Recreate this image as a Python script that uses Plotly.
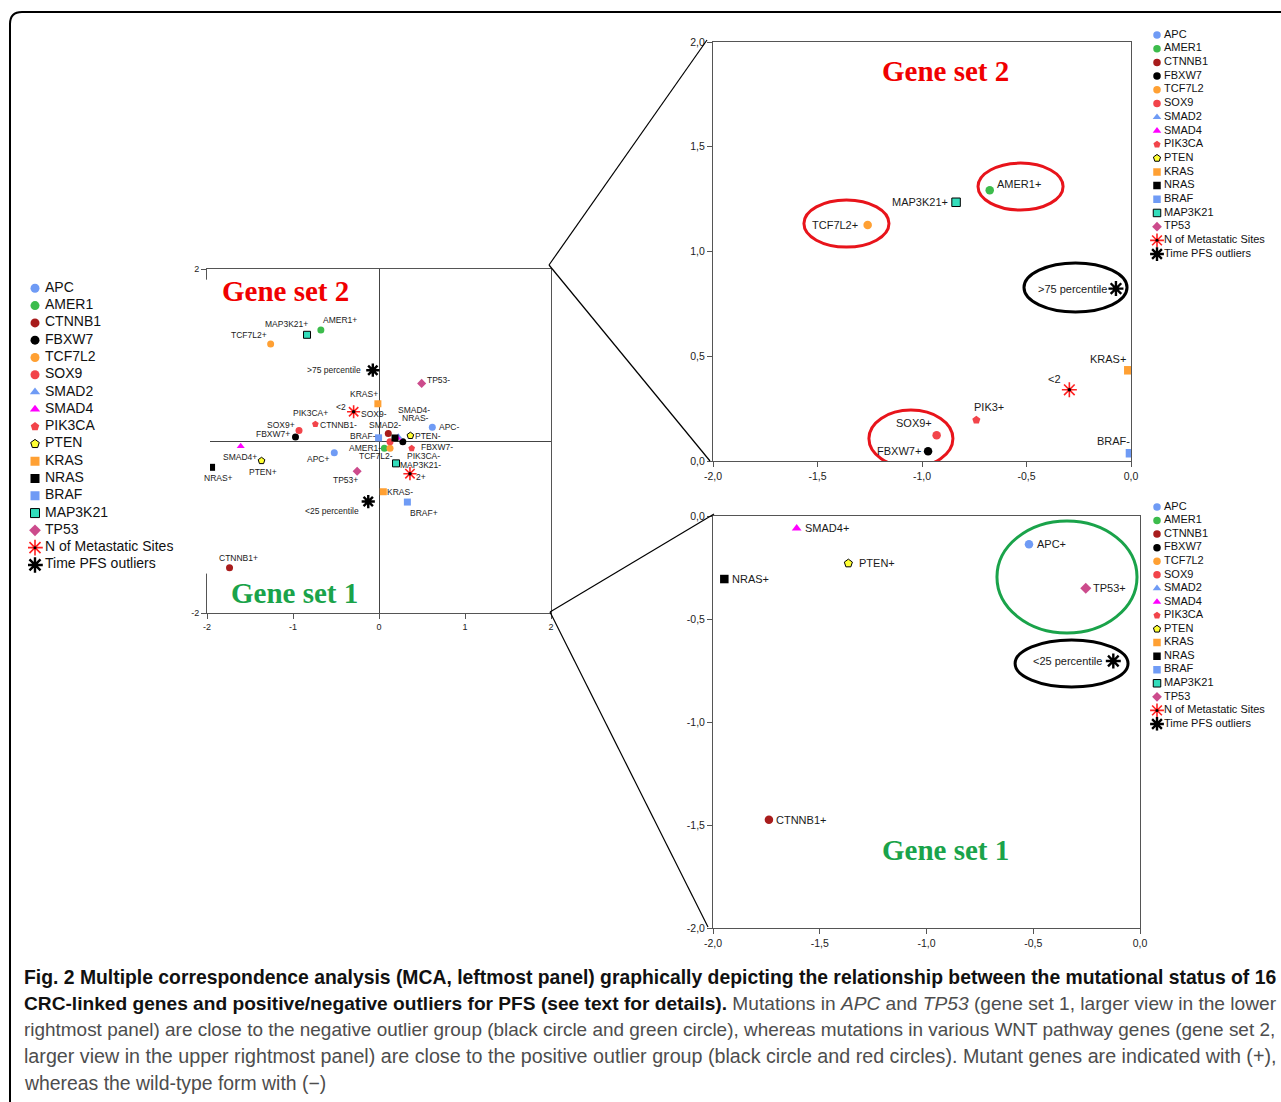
import plotly.graph_objects as go

# ---------------- DATA ----------------
series_names = ["APC", "AMER1", "CTNNB1", "FBXW7", "TCF7L2", "SOX9", "SMAD2", "SMAD4",
                "PIK3CA", "PTEN", "KRAS", "NRAS", "BRAF", "MAP3K21", "TP53",
                "N of Metastatic Sites", "Time PFS outliers"]

point_labels = ["APC+", "APC-", "AMER1+", "AMER1-", "CTNNB1+", "CTNNB1-", "FBXW7+", "FBXW7-",
                "TCF7L2+", "TCF7L2-", "SOX9+", "SOX9-", "SMAD2-", "SMAD4+", "SMAD4-",
                "PIK3CA+", "PIK3CA-", "PTEN+", "PTEN-", "KRAS+", "KRAS-", "NRAS+", "NRAS-",
                "BRAF+", "BRAF-", "MAP3K21+", "MAP3K21-", "TP53+", "TP53-",
                "<2", "2+", ">75 percentile", "<25 percentile"]
point_series = ["APC", "APC", "AMER1", "AMER1", "CTNNB1", "CTNNB1", "FBXW7", "FBXW7",
                "TCF7L2", "TCF7L2", "SOX9", "SOX9", "SMAD2", "SMAD4", "SMAD4",
                "PIK3CA", "PIK3CA", "PTEN", "PTEN", "KRAS", "KRAS", "NRAS", "NRAS",
                "BRAF", "BRAF", "MAP3K21", "MAP3K21", "TP53", "TP53",
                "N of Metastatic Sites", "N of Metastatic Sites",
                "Time PFS outliers", "Time PFS outliers"]
dim1 = [-0.52, 0.62, -0.676, 0.062, -1.738, 0.108, -0.971, 0.277,
        -1.26, 0.128, -0.93, 0.128, 0.225, -1.608, 0.213,
        -0.74, 0.38, -1.366, 0.365, -0.013, 0.05, -1.947, 0.186,
        0.33, -0.005, -0.837, 0.198, -0.254, 0.496,
        -0.295, 0.36, -0.072, -0.125]
dim2 = [-0.137, 0.16, 1.292, -0.085, -1.474, 0.088, 0.046, -0.008,
        1.127, -0.085, 0.123, -0.008, 0.05, -0.06, 0.036,
        0.196, -0.085, -0.23, 0.062, 0.433, -0.59, -0.306, 0.035,
        -0.71, 0.037, 1.235, -0.26, -0.351, 0.67,
        0.34, -0.38, 0.823, -0.704]

left_ticks = [-2, -1, 0, 1, 2]
left_ticktext = ["-2", "-1", "0", "1", "2"]
neg_ticks = [-2, -1.5, -1, -0.5, 0]
neg_ticktext = ["-2,0", "-1,5", "-1,0", "-0,5", "0,0"]
pos_ticks = [0, 0.5, 1, 1.5, 2]
pos_ticktext = ["0,0", "0,5", "1,0", "1,5", "2,0"]

upper_display = {"PIK3CA+": "PIK3+"}

caption_lines = [
    "<b>Fig. 2 Multiple correspondence analysis (MCA, leftmost panel) graphically depicting the relationship between the mutational status of 16</b>",
    "<b>CRC-linked genes and positive/negative outliers for PFS (see text for details).</b><span style='color:#4d4d4d'> Mutations in <i>APC</i> and <i>TP53</i> (gene set 1, larger view in the lower</span>",
    "<span style='color:#4d4d4d'>rightmost panel) are close to the negative outlier group (black circle and green circle), whereas mutations in various WNT pathway genes (gene set 2,</span>",
    "<span style='color:#4d4d4d'>larger view in the upper rightmost panel) are close to the positive outlier group (black circle and red circles). Mutant genes are indicated with (+),</span>",
    "<span style='color:#4d4d4d'>whereas the wild-type form with (\u2212)</span>",
]

# ---------------- STYLE ----------------
W, H = 1281, 1102
def px(x): return x / W
def py(y): return 1 - y / H

FONT = "Liberation Sans, Arial, sans-serif"
SERIF = "Liberation Serif, Times New Roman, serif"

series_style = {
    "APC": ("circle", "#6f9bf5", None),
    "AMER1": ("circle", "#3cbc4c", None),
    "CTNNB1": ("circle", "#a81c1c", None),
    "FBXW7": ("circle", "#000000", None),
    "TCF7L2": ("circle", "#ffa033", None),
    "SOX9": ("circle", "#f2444a", None),
    "SMAD2": ("triangle-up", "#6f9bf5", None),
    "SMAD4": ("triangle-up", "#ff00ff", None),
    "PIK3CA": ("pentagon", "#f2444a", None),
    "PTEN": ("pentagon", "#ffff33", "#000000"),
    "KRAS": ("square", "#ffa033", None),
    "NRAS": ("square", "#000000", None),
    "BRAF": ("square", "#6f9bf5", None),
    "MAP3K21": ("square", "#33ddbb", "#000000"),
    "TP53": ("diamond", "#cc4b8c", None),
    "N of Metastatic Sites": ("asterisk-open", "#ff2020", None),
    "Time PFS outliers": ("asterisk-open", "#000000", None),
}
STAR_SERIES = ["N of Metastatic Sites", "Time PFS outliers"]

# label offsets in screen pixels (dx right, dy down)
left_offsets = {
    "MAP3K21+": (-21, -11), "AMER1+": (19, -10), "TCF7L2+": (-22, -9), ">75 percentile": (-39, 0),
    "KRAS+": (-14, -10), "<2": (-13, -5), "SOX9-": (-16, -28), "PIK3CA+": (-5, -11),
    "CTNNB1-": (-50, -8), "SOX9+": (-18, -5), "FBXW7+": (-22, -3), "SMAD2-": (-13, -12),
    "BRAF-": (-16, -2), "SMAD4-": (17, -28), "NRAS-": (20, -20), "APC-": (17, 0),
    "PTEN-": (18, 0), "FBXW7-": (34, 5), "PIK3CA-": (12, 8), "AMER1-": (-19, 0),
    "TCF7L2-": (-14, 8), "MAP3K21-": (24, 2), "2+": (11, 3), "TP53+": (-12, 9),
    "APC+": (-16, 6), "SMAD4+": (-1, 11), "PTEN+": (1, 11), "NRAS+": (7, 11),
    "<25 percentile": (-36, 9), "CTNNB1+": (9, -10), "TP53-": (17, -3), "KRAS-": (17, 0),
    "BRAF+": (17, 11),
}
upper_offsets = {
    "AMER1+": (29, -6), "MAP3K21+": (-36, 0), "TCF7L2+": (-33, 0), ">75 percentile": (-43, 0),
    "KRAS+": (-20, -11), "<2": (-15, -11), "PIK3CA+": (13, -13), "SOX9+": (-23, -12),
    "FBXW7+": (-29, 0), "BRAF-": (-16, -12),
}
lower_offsets = {
    "SMAD4+": (30, 0), "PTEN+": (29, 0), "NRAS+": (26, 0), "APC+": (23, 0),
    "TP53+": (24, 0), "<25 percentile": (-46, 0), "CTNNB1+": (32, 0),
}

panels = [
    # axis suffix, xrange, yrange, marker size, label font size, offsets, display map
    ("", [-2, 2], [-2, 2], 7, 8.5, left_offsets, {}),
    ("2", [-2, 0], [0, 2], 8.5, 11, upper_offsets, upper_display),
    ("3", [-2, 0], [-2, 0], 8.5, 11, lower_offsets, {}),
]

fig = go.Figure()
annotations = []

def marker_for(s, size):
    sym, col, lc = series_style[s]
    if s in STAR_SERIES:
        return dict(symbol=sym, color=col, size=size + 4,
                    line=dict(color=col, width=2.4 if s == "Time PFS outliers" else 1.6))
    return dict(symbol=sym, color=col, size=size,
                line=dict(color=lc if lc else col, width=1 if lc else 0))

for suf, xr, yr, msize, lsize, offs, disp in panels:
    xa, ya = "x" + suf, "y" + suf
    inside = [i for i in range(len(point_labels))
              if xr[0] <= dim1[i] <= xr[1] and yr[0] <= dim2[i] <= yr[1]]
    for s in series_names:
        idx = [i for i in inside if point_series[i] == s]
        if not idx:
            continue
        fig.add_trace(go.Scatter(
            x=[dim1[i] for i in idx], y=[dim2[i] for i in idx], mode="markers",
            marker=marker_for(s, msize), xaxis=xa, yaxis=ya, showlegend=False,
            hoverinfo="text", text=[point_labels[i] for i in idx]))
        if s in STAR_SERIES:
            fig.add_trace(go.Scatter(
                x=[dim1[i] for i in idx], y=[dim2[i] for i in idx], mode="markers",
                marker=dict(symbol="circle", color="#000000",
                            size=5 if s == "Time PFS outliers" else 3.5),
                xaxis=xa, yaxis=ya, showlegend=False, hoverinfo="skip"))
    for i in inside:
        lab = point_labels[i]
        if lab not in offs:
            continue
        dx, dy = offs[lab]
        annotations.append(dict(
            x=dim1[i], y=dim2[i], xref=xa, yref=ya, text=disp.get(lab, lab),
            showarrow=False, xshift=dx, yshift=-dy, xanchor="center", yanchor="middle",
            font=dict(family=FONT, size=lsize, color="#1a1a1a")))

# ---------------- manual legends ----------------
legends = [
    # axis suffix, x domain px, top row y, row step, font size, marker size, text dx
    ("4", (28, 210), 288.3, 17.29, 14, 9, 10),
    ("5", (1150, 1281), 35.0, 13.69, 11, 7.5, 7),
    ("6", (1150, 1281), 507.0, 13.56, 11, 7.5, 7),
]
n = len(series_names)
for suf, (x0, x1), top, step, fsize, msz, tdx in legends:
    xa, ya = "x" + suf, "y" + suf
    mx = 7
    rows = list(range(n))
    for r, s in zip(rows, series_names):
        fig.add_trace(go.Scatter(x=[0], y=[r], mode="markers", marker=marker_for(s, msz),
                                 xaxis=xa, yaxis=ya, showlegend=False, hoverinfo="skip"))
        if s in STAR_SERIES:
            fig.add_trace(go.Scatter(x=[0], y=[r], mode="markers",
                                     marker=dict(symbol="circle", color="#000000",
                                                 size=4.5 if s == "Time PFS outliers" else 3),
                                     xaxis=xa, yaxis=ya, showlegend=False, hoverinfo="skip"))
    fig.add_trace(go.Scatter(x=[tdx] * n, y=rows, mode="text", text=series_names,
                             textposition="middle right", cliponaxis=False,
                             textfont=dict(family=FONT, size=fsize, color="#111111"),
                             xaxis=xa, yaxis=ya, showlegend=False, hoverinfo="skip"))
    fig.layout["xaxis" + suf] = dict(domain=[px(x0), px(x1)], range=[-mx, (x1 - x0) - mx],
                                     visible=False, fixedrange=True, anchor=ya,
                                     automargin=False)
    fig.layout["yaxis" + suf] = dict(domain=[py(top + step * (n - 0.5)), py(top - step * 0.5)],
                                     range=[n - 0.5, -0.5], visible=False, fixedrange=True,
                                     anchor=xa, automargin=False)

# ---------------- axes ----------------
def axis_common(fs):
    return dict(showline=True, mirror=True, linecolor="#555555", linewidth=1,
                ticks="outside", ticklen=5, tickcolor="#555555", showgrid=False,
                automargin=False,
                tickfont=dict(family=FONT, size=fs, color="#222222"), fixedrange=True)

fig.update_layout(
    xaxis=dict(domain=[px(207), px(551)], range=[-2, 2], tickvals=left_ticks,
               ticktext=left_ticktext, zeroline=True, zerolinecolor="#444444",
               zerolinewidth=1, anchor="y", **axis_common(9)),
    yaxis=dict(domain=[py(613), py(269)], range=[-2, 2], tickvals=left_ticks,
               ticktext=left_ticktext, zeroline=True, zerolinecolor="#444444",
               zerolinewidth=1, anchor="x", **axis_common(9)),
    xaxis2=dict(domain=[px(713), px(1131)], range=[-2, 0], tickvals=neg_ticks,
                ticktext=neg_ticktext, zeroline=False, anchor="y2", **axis_common(10.5)),
    yaxis2=dict(domain=[py(461), py(42)], range=[0, 2], tickvals=pos_ticks,
                ticktext=pos_ticktext, zeroline=False, anchor="x2", **axis_common(10.5)),
    xaxis3=dict(domain=[px(713), px(1140)], range=[-2, 0], tickvals=neg_ticks,
                ticktext=neg_ticktext, zeroline=False, anchor="y3", **axis_common(10.5)),
    yaxis3=dict(domain=[py(928), py(516)], range=[-2, 0], tickvals=neg_ticks,
                ticktext=neg_ticktext, zeroline=False, anchor="x3", **axis_common(10.5)),
)

# ---------------- titles / captions ----------------
gene_titles = [
    ("Gene set 2", 285, 291, "#f00000"),
    ("Gene set 1", 294, 593, "#1aa34a"),
    ("Gene set 2", 945, 71, "#f00000"),
    ("Gene set 1", 945, 850, "#1aa34a"),
]
for t, cx, cy, col in gene_titles:
    annotations.append(dict(x=px(cx), y=py(cy), xref="paper", yref="paper", text="<b>%s</b>" % t,
                            showarrow=False, xanchor="center", yanchor="middle",
                            font=dict(family=SERIF, size=29, color=col)))

cap_y = [977, 1003, 1029, 1056, 1083]
cap_size = [19.35, 19.15, 18.95, 19.7, 19.4]
for line, yy, fs in zip(caption_lines, cap_y, cap_size):
    annotations.append(dict(x=px(22), y=py(yy), xref="paper", yref="paper", text=line,
                            showarrow=False, xanchor="left", yanchor="middle",
                            font=dict(family=FONT, size=fs, color="#111111")))

# ---------------- shapes ----------------
shapes = []
ellipses = [
    ("x2", "y2", -0.732, -0.325, 1.198, 1.422, "#e8141b"),
    ("x2", "y2", -1.565, -1.158, 1.021, 1.246, "#e8141b"),
    ("x2", "y2", -0.512, -0.019, 0.711, 0.945, "#000000"),
    ("x2", "y2", -1.254, -0.852, -0.029, 0.243, "#e8141b"),
    ("x3", "y3", -0.670, -0.014, -0.568, -0.024, "#1aa34a"),
    ("x3", "y3", -0.585, -0.056, -0.830, -0.602, "#000000"),
]
for xr_, yr_, a0, a1, b0, b1, col in ellipses:
    shapes.append(dict(type="circle", xref=xr_, yref=yr_, x0=a0, x1=a1, y0=b0, y1=b1,
                       line=dict(color=col, width=3)))

connectors = [((549, 265), (707, 40)), ((549, 265), (710, 461)),
              ((550, 612), (714, 514)), ((550, 612), (708, 927))]
for (ax0, ay0), (ax1, ay1) in connectors:
    shapes.append(dict(type="line", xref="paper", yref="paper", x0=px(ax0), y0=py(ay0),
                       x1=px(ax1), y1=py(ay1), line=dict(color="#000000", width=1.2)))

path = "M %f,%f L %f,%f Q %f,%f %f,%f L %f,%f" % (
    px(10), py(1110), px(10), py(24), px(10), py(12), px(22), py(12), px(1290), py(12))
shapes.append(dict(type="path", xref="paper", yref="paper", path=path,
                   line=dict(color="#000000", width=2)))

fig.update_layout(
    width=W, height=H, margin=dict(l=0, r=0, t=0, b=0, pad=0, autoexpand=False),
    paper_bgcolor="white", plot_bgcolor="white", showlegend=False,
    annotations=annotations, shapes=shapes,
)

fig.write_html("out.html", config={"displayModeBar": False},
               post_script="document.body.style.margin='0';document.body.style.overflow='hidden';")
